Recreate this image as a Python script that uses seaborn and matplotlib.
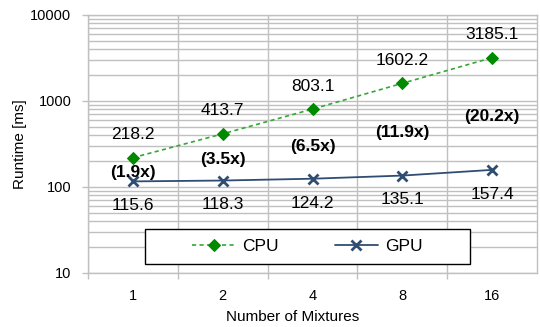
import numpy as np
import matplotlib
matplotlib.use("Agg")
import matplotlib.pyplot as plt
import seaborn as sns
from matplotlib.ticker import FixedLocator, FuncFormatter, LogLocator, NullFormatter
from matplotlib.patches import Rectangle

mixtures = [1, 2, 4, 8, 16]
cpu_ms = [218.2, 413.7, 803.1, 1602.2, 3185.1]
gpu_ms = [115.6, 118.3, 124.2, 135.1, 157.4]
speedup_labels = ["(1.9x)", "(3.5x)", "(6.5x)", "(11.9x)", "(20.2x)"]
y_ticks = [10, 100, 1000, 10000]

GRID = "#c0c0c0"
CPU_LINE = "#33a833"
CPU_MARK = "#008a00"
GPU_COL = "#2f4d72"

sns.set_theme(style="white")
plt.rcParams['font.family'] = ['Liberation Sans', 'DejaVu Sans']

fig = plt.figure(figsize=(5.4, 3.27), dpi=100)
ax = fig.add_axes([88 / 540, 1 - 272.7 / 327, 449 / 540, 257.7 / 327])

pos = np.arange(len(mixtures))
sns.lineplot(x=pos, y=cpu_ms, ax=ax, color=CPU_LINE, linestyle=(0, (2.5, 2)),
             linewidth=1.2, marker='D', markersize=6.5, markerfacecolor=CPU_MARK,
             markeredgecolor=CPU_MARK, label='CPU')
sns.lineplot(x=pos, y=gpu_ms, ax=ax, color=GPU_COL, linewidth=1.3, marker='x',
             markersize=7, markeredgewidth=2, markeredgecolor=GPU_COL, label='GPU')

ax.set_yscale('log')
ax.set_ylim(10, 10000)
ax.set_xlim(-0.5, len(mixtures) - 0.5)

ax.yaxis.set_major_locator(FixedLocator(y_ticks))
ax.yaxis.set_major_formatter(FuncFormatter(lambda v, _: f"{v:g}"))
ax.yaxis.set_minor_locator(LogLocator(subs=range(2, 10)))
ax.yaxis.set_minor_formatter(NullFormatter())

ax.set_xticks(pos, labels=[str(m) for m in mixtures])
ax.set_xticks(pos - 0.5, minor=True)
ax.xaxis.set_minor_formatter(NullFormatter())

ax.grid(False)
ax.yaxis.grid(True, which='both', color=GRID, linewidth=1)
ax.xaxis.grid(True, which='minor', color=GRID, linewidth=1)

ax.tick_params(axis='x', which='major', bottom=True, length=0, pad=12, labelsize=10.5, labelcolor='black')
ax.tick_params(axis='x', which='minor', bottom=True, length=4, width=1, color=GRID, direction='out')
ax.tick_params(axis='y', which='major', left=True, length=4, width=1, color=GRID, direction='out',
               pad=8, labelsize=10.5, labelcolor='black')
ax.tick_params(axis='y', which='minor', left=True, length=0)
for sp in ax.spines.values():
    sp.set_color(GRID)
    sp.set_linewidth(1)

for i, (c, g, s) in enumerate(zip(cpu_ms, gpu_ms, speedup_labels)):
    ax.annotate(f"{c:.1f}", (i, c), xytext=(0, 16.5), textcoords='offset points',
                ha='center', va='center', fontsize=12.5, color='black')
    ax.annotate(f"{g:.1f}", (i, g), xytext=(0, -17.5), textcoords='offset points',
                ha='center', va='center', fontsize=12.5, color='black')
    ax.annotate(s, (i, np.sqrt(c * g)), xytext=(0, -2), textcoords='offset points',
                ha='center', va='center', fontsize=12.5, fontweight='bold', color='black')

ax.set_xlabel("Number of Mixtures", fontsize=11, labelpad=2, color='black')
ax.xaxis.set_label_coords((292.5 - 88) / 449, -0.145)
ax.set_ylabel("Runtime [ms]", fontsize=11, labelpad=2, color='black')

frame = Rectangle((145 / 540, 1 - 264 / 327), 325 / 540, 35 / 327, transform=fig.transFigure,
                  facecolor='white', edgecolor='black', linewidth=1, zorder=4, clip_on=False)
ax.add_patch(frame)
handles, labels = ax.get_legend_handles_labels()
leg = ax.legend(handles, labels, ncol=2, loc='center',
                bbox_to_anchor=(307.5 / 540, 1 - 246.5 / 327), bbox_transform=fig.transFigure,
                frameon=False, fontsize=12.5, handlelength=2.5, handletextpad=0.4,
                columnspacing=3.2)
leg.set_zorder(5)
for t in leg.get_texts():
    t.set_color('black')

fig.savefig("out.png", dpi=100)
